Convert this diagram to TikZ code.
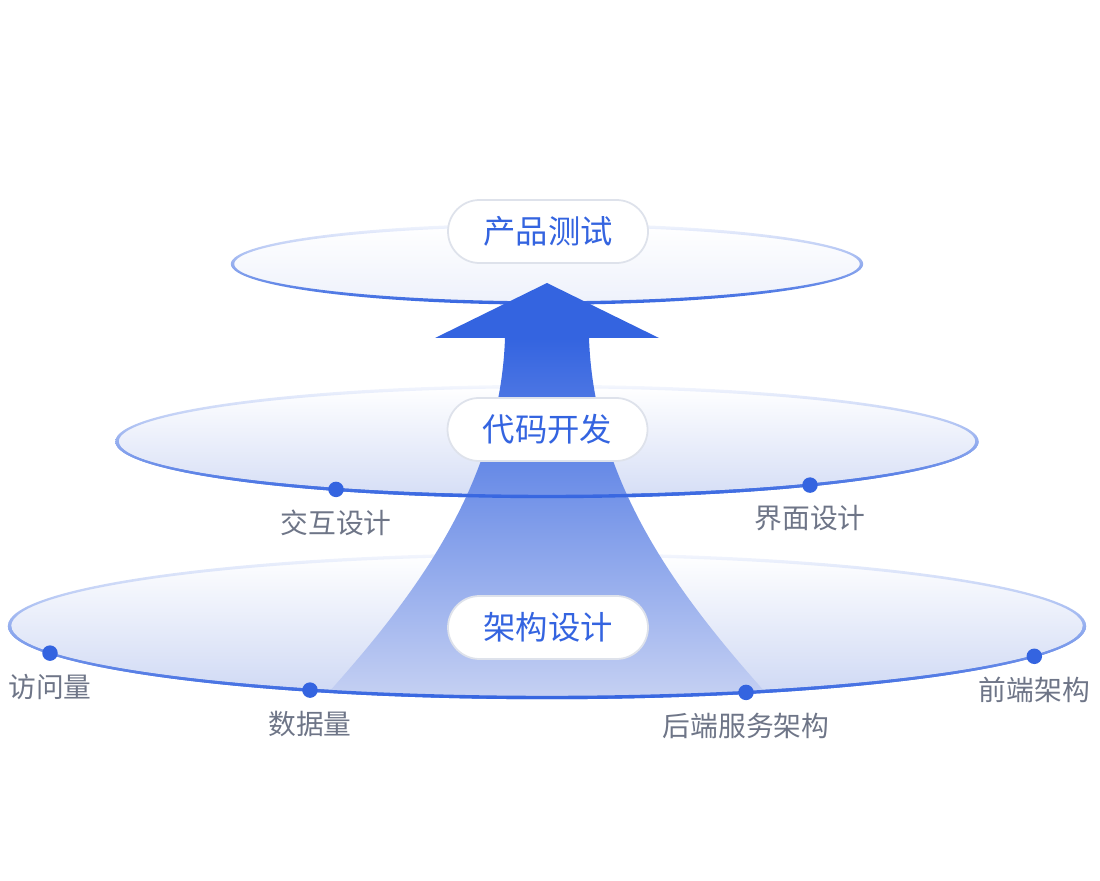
\documentclass[tikz,border=0pt]{standalone}
\usepackage{fontspec}
\newfontfamily\cjk{Noto Sans CJK SC}
\usetikzlibrary{positioning,calc}
\definecolor{mainblue}{RGB}{52,100,224}
\definecolor{fillblue}{RGB}{206,216,244}
\definecolor{tagcolor}{RGB}{110,117,135}
\definecolor{pillborder}{RGB}{222,226,235}

\begin{document}
\begin{tikzpicture}[
    pill/.style={draw=pillborder, line width=0.5pt, fill=white, rounded corners=0.315cm, minimum width=2cm, minimum height=0.63cm, inner sep=0pt, text=mainblue, font=\cjk\fontsize{9.2}{11}\selectfont},
    dot/.style={circle, fill=mainblue, minimum size=0.155cm, inner sep=0pt},
    tag/.style={text=tagcolor, inner sep=0pt, font=\cjk\fontsize{7.9}{9.5}\selectfont},
    disc/.style={top color=white, middle color=fillblue!30!white, bottom color=fillblue},
    ring/.style={even odd rule, top color=mainblue!5!white, middle color=mainblue!62!white, bottom color=mainblue}
]
\useasboundingbox (0,0) rectangle (11,8.8);

% Centers of the three layers
\coordinate (topC) at (5.47,6.16);
\coordinate (midC) at (5.47,4.385);
\coordinate (botC) at (5.47,2.54);

% Layer fills
\path[disc, middle color=fillblue!10!white, bottom color=fillblue!35!white] (topC) ellipse [x radius=3.145, y radius=0.39];
\path[disc, bottom color=fillblue!85!white] (midC) ellipse [x radius=4.30, y radius=0.55];
\path[disc] (botC) ellipse [x radius=5.375, y radius=0.715];

% Rings, all under the arrow
\path[ring] (topC) ellipse [x radius=3.162, y radius=0.407] (topC) ellipse [x radius=3.128, y radius=0.373];
\path[ring] (midC) ellipse [x radius=4.317, y radius=0.567] (midC) ellipse [x radius=4.283, y radius=0.533];
\path[ring] (botC) ellipse [x radius=5.392, y radius=0.732] (botC) ellipse [x radius=5.358, y radius=0.698];

% Arrow shaft and head
\coordinate (shaftL) at ($(botC)+(246.13:5.375 and 0.715)$);
\path[top color=mainblue, middle color={rgb,255:red,132;green,159;blue,234}, bottom color={rgb,255:red,198;green,209;blue,243}]
    (5.05,5.42) .. controls (5.00,4.00) and (4.20,2.90) .. (shaftL)
    arc[start angle=246.13, end angle=293.87, x radius=5.375, y radius=0.715]
    .. controls (6.74,2.90) and (5.94,4.00) .. (5.89,5.42) -- cycle;
\fill[mainblue] (4.35,5.42) -- (5.47,5.97) -- (6.59,5.42) -- cycle;

% Front halves of the lower rings over the arrow
\begin{scope}
\clip (0,0) rectangle (11,4.385);
\path[ring] (midC) ellipse [x radius=4.317, y radius=0.567] (midC) ellipse [x radius=4.283, y radius=0.533];
\end{scope}
\begin{scope}
\clip (0,0) rectangle (11,2.54);
\path[ring] (botC) ellipse [x radius=5.392, y radius=0.732] (botC) ellipse [x radius=5.358, y radius=0.698];
\end{scope}

% Points on the rings
\node[dot] (dInter) at (3.36,3.906) {};
\node[dot] (dUi) at (8.10,3.949) {};
\node[dot] (dVisit) at (0.50,2.269) {};
\node[dot] (dData) at (3.10,1.899) {};
\node[dot] (dBack) at (7.46,1.876) {};
\node[dot] (dFront) at (10.343,2.237) {};

% Point labels
\node[tag, below=0.115cm of dInter] (tInter) {交互设计};
\node[tag, below=0.115cm of dUi] (tUi) {界面设计};
\node[tag, below=0.115cm of dVisit] (tVisit) {访问量};
\node[tag, below=0.115cm of dData] (tData) {数据量};
\node[tag, below=0.115cm of dBack] (tBack) {后端服务架构};
\node[tag, below=0.115cm of dFront] (tFront) {前端架构};

% Layer titles
\node[pill] (test) at (5.48,6.485) {产品测试};
\node[pill] (dev) at (5.475,4.505) {代码开发};
\node[pill] (arch) at (5.48,2.525) {架构设计};

\end{tikzpicture}
\end{document}
